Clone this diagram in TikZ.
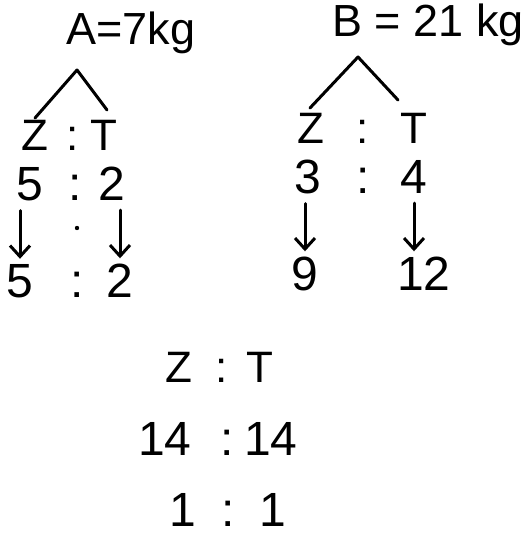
\documentclass[tikz,border=0pt]{standalone}
\usepackage{fontspec}
\setmainfont{Liberation Sans}
\usetikzlibrary{arrows.meta,positioning}

\tikzset{
  hand/.style={line width=3pt,line cap=round,line join=round},
  down/.style={hand,-{Straight Barb[length=11pt,width=20pt,line width=3pt]},shorten <=10pt,shorten >=5pt},
  ttl/.style={font=\fontsize{45}{45}\selectfont,inner sep=0pt,anchor=base},
  let/.style={font=\fontsize{44}{44}\selectfont,inner sep=0pt,anchor=base},
  val/.style={font=\fontsize{48}{48}\selectfont,inner sep=0pt,anchor=base}
}

\begin{document}
\begin{tikzpicture}[x=1pt,y=-1pt]
  \useasboundingbox (0,0) rectangle (527,535);

  % mass A
  \node[ttl] (aTitle) at (131,45) {A=7kg};
  \coordinate (aTop) at (77,70);
  \coordinate (aL) at (35,118);
  \coordinate (aR) at (107,110);
  \draw[hand] (aL) -- (aTop) -- (aR);
  \node[let] (aZ) at (35,150) {Z};
  \node[let] (aC1) at (73,150) {:};
  \node[let] (aT) at (104,150) {T};
  \node[val] (aZn) at (30,200) {5};
  \node[val] (aC2) at (75,200) {:};
  \node[val] (aTn) at (112,200) {2};
  \fill (77,228) circle (2.2pt);
  \node[val] (aZr) at (20,297) {5};
  \node[val] (aC3) at (77,297) {:};
  \node[val] (aTr) at (120,297) {2};
  \draw[down] (aZr.north |- aZn.south) -- (aZr.north);
  \draw[down] (aTr.north |- aTn.south) -- (aTr.north);

  % mass B
  \node[ttl] (bTitle) at (428,37) {B = 21 kg};
  \coordinate (bTop) at (358,57);
  \coordinate (bL) at (310,108);
  \coordinate (bR) at (398,100);
  \draw[hand] (bL) -- (bTop) -- (bR);
  \node[let] (bZ) at (311,143) {Z};
  \node[let] (bC1) at (363,143) {:};
  \node[let] (bT) at (414,143) {T};
  \node[val] (bZn) at (308,193) {3};
  \node[val] (bC2) at (363,193) {:};
  \node[val] (bTn) at (414,193) {4};
  \node[val] (bZr) at (305,290) {9};
  \node[val] (bTr) at (424,290) {12};
  \draw[down] (bZr.north |- bZn.south) -- (bZr.north);
  \draw[down] (bTn.south) -- (bTn.south |- bTr.north);

  % mixture
  \node[let] (mZ) at (179,382) {Z};
  \node[let] (mC1) at (222,382) {:};
  \node[let] (mT) at (260,382) {T};
  \node[val] (mZn) at (165,455) {14};
  \node[val] (mC2) at (227,455) {:};
  \node[val] (mTn) at (271,455) {14};
  \node[val] (mZr) at (183,526) {1};
  \node[val] (mC3) at (228,526) {:};
  \node[val] (mTr) at (273,526) {1};
\end{tikzpicture}
\end{document}
